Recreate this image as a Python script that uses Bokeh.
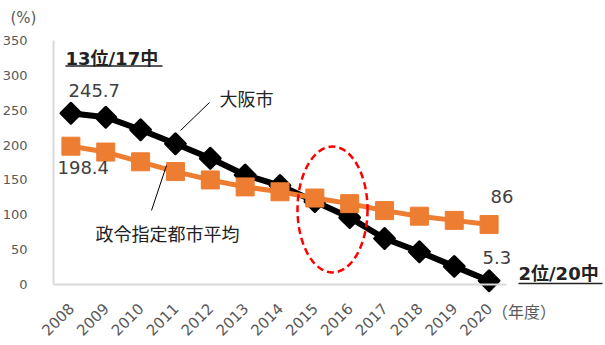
import numpy as np
from bokeh.plotting import figure
from bokeh.models import Label, FixedTicker, Range1d
from bokeh.embed import file_html
from bokeh.resources import INLINE

years = [2008, 2009, 2010, 2011, 2012, 2013, 2014, 2015, 2016, 2017, 2018, 2019, 2020]
osaka = [245.7, 240, 222, 202, 181, 157, 142, 119, 96, 66, 47, 26, 5.3]
seirei_avg = [198.4, 190, 176, 162, 150, 140, 133, 124, 116, 106, 98, 92, 86]
y_ticks = [0, 50, 100, 150, 200, 250, 300, 350]

NUM = "DejaVu Sans, Noto Sans CJK JP"
JP = "Noto Sans CJK JP"
GRAY = "#595959"
ORANGE = "#ED7D31"

p = figure(width=605, height=345, output_backend="svg", toolbar_location=None,
           x_range=Range1d(2005.98, 2023.34), y_range=Range1d(-87.5, 407.4),
           min_border_left=0, min_border_right=0, min_border_top=0, min_border_bottom=0)
p.outline_line_color = None
p.grid.visible = False
p.background_fill_color = "white"
p.border_fill_color = "white"

for ax in (p.xaxis[0], p.yaxis[0]):
    ax.axis_line_color = "#d9d9d9"
    ax.axis_line_width = 2
    ax.major_tick_line_color = None
    ax.minor_tick_line_color = None
    ax.major_label_text_font = "DejaVu Sans"
    ax.major_label_text_color = GRAY

p.xaxis.ticker = FixedTicker(ticks=years)
p.xaxis.bounds = (2007.5, 2020.5)
p.xaxis.fixed_location = 0
p.xaxis.major_label_orientation = np.pi / 4
p.xaxis.major_label_standoff = 15
p.xaxis.major_label_text_font_size = "15px"
p.yaxis.ticker = FixedTicker(ticks=y_ticks)
p.yaxis.bounds = (0, 350)
p.yaxis.fixed_location = 2007.5
p.yaxis.major_label_standoff = 20
p.yaxis.major_label_text_font_size = "13px"

# Osaka line
p.line(years, osaka, line_color="black", line_width=6, line_join="round")
p.scatter(years, osaka, marker="square", angle=np.pi / 4, size=14,
          fill_color="black", line_color="black", line_width=3, line_join="round")

# Average line
p.line(years, seirei_avg, line_color=ORANGE, line_width=5)
p.scatter(years, seirei_avg, marker="square", size=18,
          fill_color=ORANGE, line_color=ORANGE, line_width=1)

# red dashed ellipse
p.ellipse(x=[2015.507], y=[107.6], width=2.01, height=180.7, fill_color=None,
          line_color="#ff0000", line_width=2.5, line_dash="7 4")

# leader lines
p.segment(x0=[2011.977, 2010.313], y0=[261.1, 106.2], x1=[2011.145, 2010.743], y1=[220.9, 170.7],
          line_color="black", line_width=1)
# underlines
p.segment(x0=[2007.845, 2020.844], y0=[313.4, 1.43], x1=[2010.629, 2023.254], y1=[313.4, 1.43],
          line_color="#222222", line_width=1.5)

def lab(x, y, text, size, color="#404040", style="normal", font=NUM):
    p.add_layout(Label(x=x, y=y, text=text, text_font=font, text_font_size=size,
                       text_color=color, text_font_style=style,
                       text_align="left", text_baseline="middle"))

lab(2006.267, 383.0, "(%)", "15px", GRAY)
lab(2007.845, 324.9, "13位/17中", "18px", "#222222", "bold")
lab(2007.931, 279.0, "245.7", "18px")
lab(2007.616, 167.8, "198.4", "18px")
lab(2020.040, 126.2, "86", "18px")
lab(2019.810, 39.4, "5.3", "18px")
lab(2020.844, 16.5, "2位/20中", "18px", "#222222", "bold")
lab(2020.083, -38.7, "（年度）", "16px", GRAY, font=JP)
lab(2012.264, 267.5, "大阪市", "18px", "#222222", font=JP)
lab(2008.706, 73.9, "政令指定都市平均", "18px", "#222222", font=JP)

open("out.html", "w").write(file_html(p, INLINE))
